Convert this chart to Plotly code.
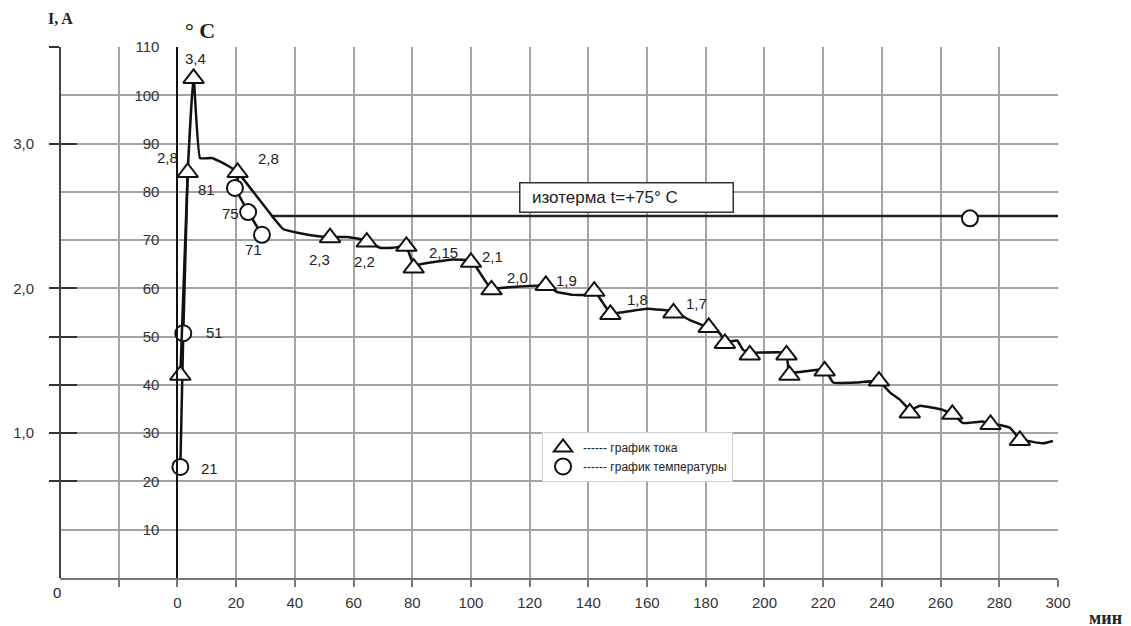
import plotly.graph_objects as go

# ---- data ----
# current measurements (triangles): time, min / current, A
cur_t = [1, 3.5, 5.5, 20.5, 52, 64.5, 78, 80.5, 100, 107, 125.5, 142, 147.5, 169, 181,
         186.5, 195, 207.5, 208.5, 220.5, 239, 249.5, 264, 277, 287]
cur_I = [1.40, 2.80, 3.45, 2.80, 2.35, 2.32, 2.29, 2.14, 2.18, 1.99, 2.02, 1.98, 1.82, 1.83, 1.73,
         1.62, 1.54, 1.54, 1.40, 1.43, 1.36, 1.14, 1.13, 1.06, 0.95]

# current curve (smoothed trace)
curve_t = [1, 3.5, 5.5, 7.7, 11.8, 16.9, 20.6, 32.6, 36, 41.8, 48, 52, 58, 64.6, 69, 73.4, 77.9,
           80.6, 85, 93.9, 100.2, 106.8, 114.3, 125.6, 129.3, 134.8, 140.5, 142.3, 147.4, 149.8,
           160, 169.2, 174.6, 180.8, 184.8, 186.6, 190.7, 192.7, 195.1, 207.4, 208.4, 220.6,
           223.4, 231.5, 239, 242.8, 246.2, 249.6, 253, 260.8, 264.3, 267.6, 274.3, 277.2,
           280.3, 283.7, 287, 291.5, 295, 298.3]
curve_I = [1.40, 2.80, 3.47, 2.90, 2.90, 2.85, 2.80, 2.49, 2.41, 2.38, 2.36, 2.355, 2.355, 2.33,
           2.28, 2.28, 2.29, 2.16, 2.175, 2.20, 2.19, 2.00, 2.01, 2.02, 1.975, 1.955, 1.955,
           1.975, 1.83, 1.83, 1.86, 1.84, 1.78, 1.73, 1.69, 1.63, 1.64, 1.575, 1.555, 1.555,
           1.42, 1.44, 1.35, 1.35, 1.36, 1.28, 1.23, 1.16, 1.19, 1.16, 1.13, 1.07, 1.08, 1.06,
           1.057, 1.036, 0.96, 0.94, 0.93, 0.946]

# temperature measurements (circles): time, min / temperature, °C
temp_t = [1, 2, 19.6, 24.1, 28.8, 270]
temp_T = [23, 50.7, 80.8, 75.8, 71.1, 74.5]
# temperature curve
tline_t = [1, 2, 3.5, None, 21, 19.6, 24.1, 28.8]
tline_T = [23, 50.7, 84, None, 83.5, 80.8, 75.8, 71.1]

# isotherm
iso_t = [32, 300]
iso_T = [75, 75]

# point labels
lab_cur = [("3,4", 6.1, 107.7), ("2,8", -3.5, 87.2), ("2,8", 31, 86.8), ("2,3", 48.3, 65.9),
           ("2,2", 63.9, 65.5), ("2,15", 90.5, 67.5), ("2,1", 107.5, 66.5), ("2,0", 115.7, 62.2),
           ("1,9", 132.7, 61.7), ("1,8", 156.9, 57.6), ("1,7", 177, 56.8)]
lab_temp = [("81", 10, 80.4), ("75", 18, 75.6), ("71", 25.8, 68), ("51", 12.8, 50.8),
            ("21", 10.8, 22.6)]

x_ticks = list(range(-20, 301, 20))
x_text = ["" if v < 0 else str(v) for v in x_ticks]
T_ticks = list(range(10, 111, 10))
I_ticks = [110 / 30, 3.0, 2.0, 50 / 30, 40 / 30, 1.0, 20 / 30]
I_text = ["", "3,0", "2,0", "", "", "1,0", ""]

X_MIN, X_MAX = -40, 300
T_MAX = 110

FONT = "Liberation Sans"
fig = go.Figure()

fig.add_trace(go.Scatter(x=curve_t, y=curve_I, yaxis="y2", mode="lines",
                         line=dict(color="#111", width=2.5, shape="spline", smoothing=0.3),
                         showlegend=False, hoverinfo="skip"))
fig.add_trace(go.Scatter(x=tline_t, y=tline_T, mode="lines",
                         line=dict(color="#111", width=2.5), showlegend=False,
                         connectgaps=False, hoverinfo="skip"))
fig.add_trace(go.Scatter(x=iso_t, y=iso_T, mode="lines",
                         line=dict(color="#222", width=2.5), showlegend=False))
fig.add_trace(go.Scatter(x=cur_t, y=cur_I, yaxis="y2", mode="markers",
                         name="------ график тока",
                         marker=dict(symbol="triangle-up", size=18, color="white",
                                     line=dict(color="#111", width=2))))
fig.add_trace(go.Scatter(x=temp_t, y=temp_T, mode="markers",
                         name="------ график температуры",
                         marker=dict(symbol="circle", size=16, color="white",
                                     line=dict(color="#111", width=2))))

annotations = []
for txt, x, y in lab_cur + lab_temp:
    annotations.append(dict(x=x, y=y, xref="x", yref="y", text=txt, showarrow=False,
                            font=dict(family=FONT, size=15, color="#222")))

annotations.append(dict(x=152.9, y=78.9, xref="x", yref="y", text="  изотерма t=+75° C",
                        showarrow=False, width=208, height=24, align="left",
                        bordercolor="#333", borderwidth=1.5, borderpad=2, bgcolor="white",
                        font=dict(family=FONT, size=17, color="#222")))

paper_labels = [
    ("<b>I, A</b>", 0.001, 1.053, "Liberation Serif", 16),
    ("<b>° C</b>", 0.14, 1.032, "Liberation Serif", 22),
    ("<b>мин</b>", 1.048, -0.075, "Liberation Serif", 18),
    ("0", -0.003, -0.028, FONT, 15),
]
for txt, x, y, fam, sz in paper_labels:
    annotations.append(dict(x=x, y=y, xref="paper", yref="paper", text=txt, showarrow=False,
                            xanchor="center", yanchor="middle",
                            font=dict(family=fam, size=sz, color="#222")))

grid = "#a3a3a3"
fig.update_layout(
    width=1131, height=626, autosize=False,
    margin=dict(l=52, r=81, t=39, b=56, autoexpand=False),
    paper_bgcolor="white", plot_bgcolor="white",
    font=dict(family=FONT, size=15, color="#333"),
    xaxis=dict(range=[X_MIN, X_MAX], tickvals=x_ticks, ticktext=x_text, showgrid=True,
               gridcolor=grid, gridwidth=1.5, zeroline=False, showline=True,
               linecolor="#777", linewidth=2, ticks="outside", ticklen=7, tickcolor="#777",
               tickwidth=1.5, ticklabelstandoff=3, fixedrange=True, automargin=False),
    yaxis=dict(range=[0, T_MAX], tickvals=T_ticks, showgrid=True, gridcolor=grid,
               gridwidth=1.5, zeroline=False, showline=True, linecolor="#111", linewidth=2,
               anchor="free", position=(0 - X_MIN) / (X_MAX - X_MIN), side="left",
               ticks="", ticklabelstandoff=14, automargin=False),
    yaxis2=dict(range=[0, T_MAX / 30], overlaying="y", anchor="free", position=0,
                side="left", tickvals=I_ticks, ticktext=I_text, showgrid=False,
                zeroline=False, showline=True, linecolor="#444", linewidth=2,
                ticks="outside", ticklen=10, tickwidth=2, tickcolor="#333",
                ticklabelstandoff=12, automargin=False),
    yaxis3=dict(range=[0, T_MAX / 30], overlaying="y", anchor="free", position=0,
                side="left", tickvals=I_ticks, showticklabels=False, showgrid=False,
                zeroline=False, showline=False, ticks="inside", ticklen=16, tickwidth=2,
                tickcolor="#333", automargin=False),
    legend=dict(x=0.483, y=0.275, xanchor="left", yanchor="top", bgcolor="white",
                bordercolor="#d0d0d0", borderwidth=1, itemwidth=30,
                font=dict(family=FONT, size=12, color="#222"), tracegroupgap=0),
    annotations=annotations,
)
# dummy trace to activate yaxis3 ticks
fig.add_trace(go.Scatter(x=[None], y=[None], yaxis="y3", showlegend=False, hoverinfo="skip"))

fig.write_html("out.html")
